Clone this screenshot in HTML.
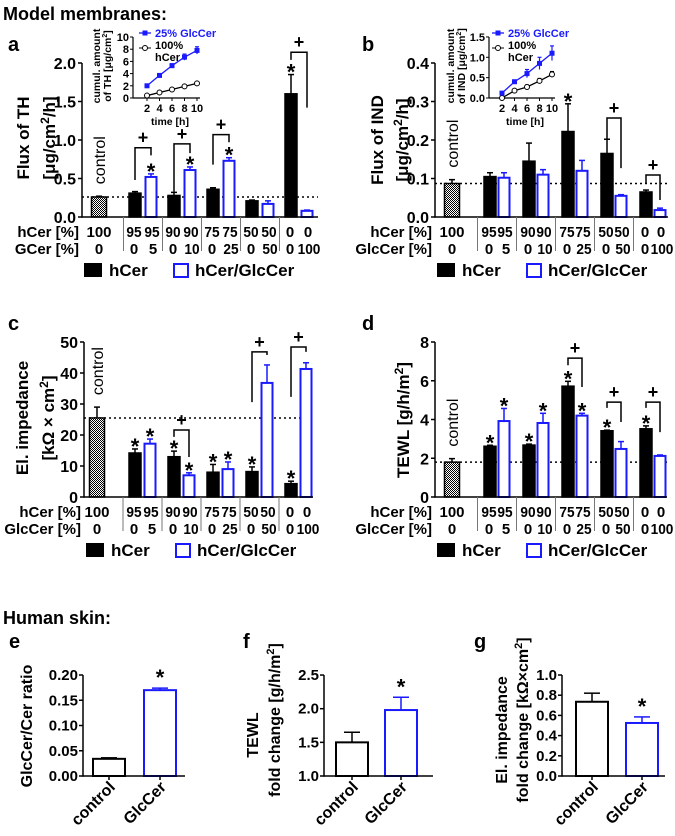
<!DOCTYPE html>
<html><head><meta charset="utf-8"><style>
html,body{margin:0;padding:0;background:#fff;}
svg{display:block;font-family:"Liberation Sans",Arial,sans-serif;}
</style></head><body>
<svg id="fig" width="675" height="836" viewBox="0 0 675 836" xmlns="http://www.w3.org/2000/svg">
<defs>
<pattern id="chk" width="2" height="2" patternUnits="userSpaceOnUse"><rect width="2" height="2" fill="#fff"/><rect width="1" height="1" fill="#000"/><rect x="1" y="1" width="1" height="1" fill="#000"/></pattern>
</defs>
<text x="3" y="20" font-size="18" font-weight="bold">Model membranes:</text>
<text x="3" y="624" font-size="18" font-weight="bold">Human skin:</text>
</svg>
<script>
// ---- data ----
const groupsHcer = ["95","90","75","50","0"];
const aGcer = ["5","10","25","50","100"];
const aCtrl = [0.26, 0.01];
const aHcer = [0.31, 0.28, 0.36, 0.21, 1.60];
const aHcerErr = [0.02, 0.04, 0.02, 0.01, 0.25];
const aBlue = [0.52, 0.61, 0.73, 0.17, 0.08];
const aBlueErr = [0.04, 0.04, 0.04, 0.04, 0.01];
const aStarsH = [0,0,0,0,1];
const aStarsB = [1,1,1,0,0];
const aBrackets = [[0,0.9,0.48,0.80],[1,0.95,0.33,0.83],[2,1.07,0.68,0.97],[4,2.14,2.04,1.42]];
const aTicks = [0,0.5,1.0,1.5,2.0];

const bCtrl = [0.087, 0.01];
const bHcer = [0.105, 0.145, 0.222, 0.165, 0.065];
const bHcerErr = [0.01, 0.047, 0.072, 0.037, 0.005];
const bBlue = [0.102, 0.110, 0.120, 0.055, 0.018];
const bBlueErr = [0.013, 0.013, 0.027, 0.003, 0.005];
const bStarsH = [0,0,1,0,0];
const bStarsB = [0,0,0,0,0];
const bBrackets = [[3,0.257,0.2,0.127],[4,0.109,0.088,0.044]];
const bTicks = [0,0.1,0.2,0.3,0.4];

const cCtrl = [25.5, 3.5];
const cHcer = [14.2, 13.0, 8.0, 8.2, 4.3];
const cHcerErr = [1.3, 1.8, 2.5, 1.5, 0.8];
const cBlue = [17.2, 7.0, 9.0, 36.8, 41.3];
const cBlueErr = [1.5, 0.8, 2.3, 5.8, 2.0];
const cStarsH = [1,1,1,1,1];
const cStarsB = [1,1,1,0,0];
const cBrackets = [[1,21.6,19.4,12.9],[3,46.8,30.6,45.8],[4,48.4,32.3,46.8]];
const cTicks = [0,10,20,30,40,50];

const dCtrl = [1.8, 0.18];
const dHcer = [2.62, 2.68, 5.72, 3.42, 3.52];
const dHcerErr = [0.05, 0.05, 0.25, 0.03, 0.15];
const dBlue = [3.92, 3.82, 4.20, 2.48, 2.12];
const dBlueErr = [0.65, 0.50, 0.12, 0.38, 0.05];
const dStarsH = [1,1,1,1,1];
const dStarsB = [1,1,1,0,0];
const dBrackets = [[2,7.17,6.8,5.68],[3,4.9,4.6,3.87],[4,4.9,4.6,3.35]];
const dTicks = [0,2,4,6,8];

const insetTime = [2,4,6,8,10];
const aInsetBlue = [2.0, 3.7, 5.3, 6.7, 7.8];
const aInsetBlueErr = [0.2, 0.3, 0.3, 0.5, 0.6];
const aInsetBlack = [0.4, 0.9, 1.4, 1.9, 2.4];
const aInsetBlackErr = [0.05, 0.1, 0.1, 0.1, 0.15];
const aInsetTicks = [0,2,4,6,8,10];
const bInsetBlue = [0.12, 0.40, 0.60, 0.85, 1.10];
const bInsetBlueErr = [0.03, 0.04, 0.10, 0.15, 0.18];
const bInsetBlack = [0.0, 0.18, 0.27, 0.42, 0.58];
const bInsetBlackErr = [0.02, 0.02, 0.05, 0.06, 0.07];
const bInsetTicks = [0,0.5,1.0,1.5];

const skinCats = ["control","GlcCer"];
const eVals = [0.034, 0.170];
const eErr = [0.002, 0.004];
const eTicks = [0,0.05,0.10,0.15,0.20];
const fVals = [1.50, 1.98];
const fErr = [0.15, 0.19];
const fTicks = [1.0,1.5,2.0,2.5];
const gVals = [0.735, 0.525];
const gErr = [0.085, 0.06];
const gTicks = [0,0.2,0.4,0.6,0.8,1.0];

// ---- drawing ----
const svg = document.getElementById('fig');
const NS = 'http://www.w3.org/2000/svg';
const BLUE = '#1a1aff';
function mk(tag, name, attrs, parent) {
  const el = document.createElementNS(NS, tag);
  
  
  for (const k in attrs) el.setAttribute(k, attrs[k]);
  (parent || svg).appendChild(el);
  return el;
}
function txt(name, x, y, s, attrs) {
  const el = mk('text', name, Object.assign({x: x, y: y}, attrs || {}));
  el.textContent = s;
  return el;
}
function val(name, x, y, s) {
  const a = {'font-size': 15, 'font-weight': 'bold', 'text-anchor': 'middle'};
  if (s.length > 1) { a.textLength = s.length * 7.6; a.lengthAdjust = 'spacingAndGlyphs'; }
  return txt(name, x, y, s, a);
}
function line(name, x1, y1, x2, y2, attrs) {
  return mk('line', name, Object.assign({x1: x1, y1: y1, x2: x2, y2: y2, stroke: '#000', 'stroke-width': 1.5}, attrs || {}));
}
function fmt(v, d) { return v.toFixed(d); }

function barPanel(c) {
  const Y = v => c.y0 - (v - c.ymin) * c.ppu;
  line(c.id + '-control-reference-line', c.axisX, Y(c.ctrl[0]), c.axisEnd, Y(c.ctrl[0]), {'stroke-dasharray': '2,3', 'stroke-width': 1.5});
  const bars = [];
  bars.push({x: c.ctrlX, v: c.ctrl[0], e: c.ctrl[1], kind: 'ctrl', star: 0, w: 15});
  for (let i = 0; i < c.hcer.length; i++) {
    const bx = c.gx0 + i * c.step;
    bars.push({x: bx, v: c.hcer[i], e: c.hcerErr[i], kind: 'h', star: c.starsH[i], w: 12});
    bars.push({x: bx + c.boff, v: c.blue[i], e: c.blueErr[i], kind: 'b', star: c.starsB[i], w: 11});
  }
  bars.forEach((b, i) => {
    const col = b.kind === 'b' ? BLUE : '#000';
    const top = Y(b.v), et = Y(b.v + b.e);
    line(c.id + '-error-bar', b.x, top, b.x, et, {stroke: col, 'stroke-width': 1.5});
    line(c.id + '-error-cap', b.x - 3, et, b.x + 3, et, {stroke: col, 'stroke-width': 1.5});
    mk('rect', c.id + '-bar-' + b.kind + '-' + i, {x: b.x - b.w / 2, y: top, width: b.w, height: c.y0 - top,
      fill: b.kind === 'ctrl' ? 'url(#chk)' : (b.kind === 'h' ? '#000' : '#fff'),
      stroke: col, 'stroke-width': b.kind === 'b' ? 2 : 1.5});
    if (b.star) txt(c.id + '-significance-star', b.x, et + 5, '*', {'font-size': 22, 'font-weight': 'bold', 'text-anchor': 'middle'});
  });
  txt(c.id + '-control-label', 0, 0, 'control', {'font-size': 16, transform: 'translate(' + (c.ctrlX + 6) + ',' + (Y(c.ctrl[0] + c.ctrl[1]) - 12) + ') rotate(-90)'});
  c.brackets.forEach(br => {
    const lx = c.gx0 + br[0] * c.step, rx = lx + c.boff, ty = Y(br[1]);
    mk('polyline', c.id + '-significance-bracket', {points: lx + ',' + Y(br[2]) + ' ' + lx + ',' + ty + ' ' + rx + ',' + ty + ' ' + rx + ',' + Y(br[3]), fill: 'none', stroke: '#000', 'stroke-width': 1.5});
    txt(c.id + '-bracket-plus', (lx + rx) / 2, ty - 4, '+', {'font-size': 18, 'font-weight': 'bold', 'text-anchor': 'middle'});
  });
  line(c.id + '-y-axis', c.axisX, c.y0 + 0.75, c.axisX, Y(c.ticks[c.ticks.length - 1]), {'stroke-width': 1.5});
  line(c.id + '-x-axis', c.axisX, c.y0, c.axisEnd, c.y0, {'stroke-width': 1.5});
  c.ticks.forEach(t => {
    line(c.id + '-y-tick', c.axisX - 4, Y(t), c.axisX, Y(t));
    txt(c.id + '-y-tick-label', c.axisX - 6, Y(t) + 6, fmt(t, c.dec), {'font-size': 16, 'font-weight': 'bold', 'text-anchor': 'end'});
  });
  const r1 = c.y0 + 20, r2 = c.y0 + 37;
  for (let i = 0; i < c.hcer.length; i++) {
    const sx = c.gx0 + i * c.step - (c.step - c.boff) / 2;
    line(c.id + '-group-separator', sx, c.y0, sx, c.y0 + 34, {stroke: '#777', 'stroke-width': 1});
  }
  txt(c.id + '-row-label-hcer', c.axisX - 3, r1, 'hCer [%]', {'font-size': 15, 'font-weight': 'bold', 'text-anchor': 'end'});
  txt(c.id + '-row-label-glccer', c.axisX - 3, r2, c.row2, {'font-size': 15, 'font-weight': 'bold', 'text-anchor': 'end'});
  txt(c.id + '-ctrl-hcer-value', c.ctrlX, r1, '100', {'font-size': 15, 'font-weight': 'bold', 'text-anchor': 'middle'});
  txt(c.id + '-ctrl-glccer-value', c.ctrlX, r2, '0', {'font-size': 15, 'font-weight': 'bold', 'text-anchor': 'middle'});
  for (let i = 0; i < groupsHcer.length; i++) {
    const bx = c.gx0 + i * c.step;
    val(c.id + '-hcer-value', bx - 1, r1, groupsHcer[i]);
    val(c.id + '-hcer-value', bx + c.boff + 1, r1, groupsHcer[i]);
    val(c.id + '-glccer-value', bx - 1, r2, '0');
    val(c.id + '-glccer-value', bx + c.boff + 2, r2, aGcer[i]);
  }
  const ly = c.y0 + 52;
  mk('rect', c.id + '-legend-hcer-swatch', {x: c.axisX + 2, y: ly - 6, width: 18, height: 14, fill: '#000'});
  txt(c.id + '-legend-hcer-label', c.axisX + 27, ly + 7, 'hCer', {'font-size': 17, 'font-weight': 'bold'});
  mk('rect', c.id + '-legend-glccer-swatch', {x: c.axisX + 92, y: ly - 5, width: 14, height: 13, fill: '#fff', stroke: BLUE, 'stroke-width': 2});
  txt(c.id + '-legend-glccer-label', c.axisX + 113, ly + 7, 'hCer/GlcCer', {'font-size': 17, 'font-weight': 'bold'});
  txt(c.id + '-panel-label', c.labX, c.labY, c.id, {'font-size': 20, 'font-weight': 'bold'});
  c.titles.forEach(t => {
    const el = txt(c.id + '-y-axis-title', 0, 0, '', {'font-size': 17, 'font-weight': 'bold', 'text-anchor': 'middle', transform: 'translate(' + t[0] + ',' + t[1] + ') rotate(-90)'});
    el.innerHTML = t[2];
  });
}

function inset(c) {
  const X = t => c.x2 + (t - 2) * c.pxT;
  const Y = v => c.y0 - v * c.ppu;
  line(c.id + '-inset-y-axis', c.ax, c.y0, c.ax, Y(c.ticks[c.ticks.length - 1]), {'stroke-width': 1.2});
  line(c.id + '-inset-x-axis', c.ax, c.y0, X(10) + 3, c.y0, {'stroke-width': 1.2});
  c.ticks.forEach(t => {
    line(c.id + '-inset-y-tick', c.ax - 3, Y(t), c.ax, Y(t), {'stroke-width': 1});
    txt(c.id + '-inset-y-tick-label', c.ax - 4, Y(t) + 4, fmt(t, c.dec), {'font-size': 11, 'font-weight': 'bold', 'text-anchor': 'end'});
  });
  insetTime.forEach(t => {
    line(c.id + '-inset-x-tick', X(t), c.y0, X(t), c.y0 + 3, {'stroke-width': 1});
    txt(c.id + '-inset-x-tick-label', X(t), c.y0 + 14, String(t), {'font-size': 11, 'font-weight': 'bold', 'text-anchor': 'middle'});
  });
  txt(c.id + '-inset-x-title', (c.x2 + X(10)) / 2 - 2, c.y0 + 27, 'time [h]', {'font-size': 10.5, 'font-weight': 'bold', 'text-anchor': 'middle'});
  [[c.black, c.blackErr, '#000', 'black'], [c.blue, c.blueErr, BLUE, 'blue']].forEach(s => {
    mk('polyline', c.id + '-inset-line-' + s[3], {points: insetTime.map((t, i) => X(t) + ',' + Y(s[0][i])).join(' '), fill: 'none', stroke: s[2], 'stroke-width': 1.3});
    insetTime.forEach((t, i) => {
      line(c.id + '-inset-error', X(t), Y(s[0][i] - s[1][i]), X(t), Y(s[0][i] + s[1][i]), {stroke: s[2], 'stroke-width': 1.2});
      line(c.id + '-inset-error-cap', X(t) - 2, Y(s[0][i] + s[1][i]), X(t) + 2, Y(s[0][i] + s[1][i]), {stroke: s[2], 'stroke-width': 1.2});
      if (s[3] === 'blue') mk('rect', c.id + '-inset-point-blue', {x: X(t) - 2.5, y: Y(s[0][i]) - 2.5, width: 5, height: 5, fill: BLUE});
      else mk('circle', c.id + '-inset-point-black', {cx: X(t), cy: Y(s[0][i]), r: 2.5, fill: '#fff', stroke: '#000', 'stroke-width': 1});
    });
  });
  line(c.id + '-inset-legend-blue-line', c.lx, 33, c.lx + 12, 33, {stroke: BLUE, 'stroke-width': 1.3});
  mk('rect', c.id + '-inset-legend-blue-marker', {x: c.lx + 3.5, y: 30.5, width: 5, height: 5, fill: BLUE});
  txt(c.id + '-inset-legend-blue-label', c.lx + 16, 37, '25% GlcCer', {'font-size': 11, 'font-weight': 'bold', fill: BLUE});
  line(c.id + '-inset-legend-black-line', c.lx, 48, c.lx + 12, 48, {'stroke-width': 1});
  mk('circle', c.id + '-inset-legend-black-marker', {cx: c.lx + 6, cy: 48, r: 2.5, fill: '#fff', stroke: '#000', 'stroke-width': 1});
  txt(c.id + '-inset-legend-black-label', c.lx + 16, 49, '100%', {'font-size': 11, 'font-weight': 'bold'});
  txt(c.id + '-inset-legend-black-label2', c.lx + 16, 61, 'hCer', {'font-size': 11, 'font-weight': 'bold'});
  c.titles.forEach(t => {
    const el = txt(c.id + '-inset-y-title', 0, 0, '', {'font-size': 10.5, 'font-weight': 'bold', 'text-anchor': 'middle', transform: 'translate(' + t[0] + ',' + t[1] + ') rotate(-90)'});
    el.innerHTML = t[2];
  });
}

function skinPanel(c) {
  const Y = v => c.y0 - (v - c.ymin) * c.ppu;
  c.vals.forEach((v, i) => {
    const x = c.cx[i], col = i === 1 ? BLUE : '#000';
    const top = Y(v), et = Y(v + c.err[i]);
    line(c.id + '-error-bar', x, top, x, et, {stroke: col, 'stroke-width': 1.5});
    line(c.id + '-error-cap', x - 8, et, x + 8, et, {stroke: col, 'stroke-width': 1.5});
    mk('rect', c.id + '-bar-' + skinCats[i], {x: x - 16, y: top, width: 32, height: c.y0 - top, fill: '#fff', stroke: col, 'stroke-width': 2});
    line(c.id + '-x-tick', x, c.y0, x, c.y0 + 4);
    txt(c.id + '-x-tick-label', 0, 0, skinCats[i], {'font-size': 16, 'font-weight': 'bold', 'text-anchor': 'end', transform: 'translate(' + (x + 7) + ',' + (c.y0 + 12) + ') rotate(-45)'});
    if (i === 1) txt(c.id + '-significance-star', x, et - 3, '*', {'font-size': 22, 'font-weight': 'bold', 'text-anchor': 'middle'});
  });
  line(c.id + '-y-axis', c.axisX, c.y0 + 0.75, c.axisX, Y(c.ticks[c.ticks.length - 1]), {'stroke-width': 1.5});
  line(c.id + '-x-axis', c.axisX, c.y0, c.axisEnd, c.y0, {'stroke-width': 1.5});
  c.ticks.forEach(t => {
    line(c.id + '-y-tick', c.axisX - 4, Y(t), c.axisX, Y(t));
    txt(c.id + '-y-tick-label', c.axisX - 5, Y(t) + 5, fmt(t, c.dec), {'font-size': 15, 'font-weight': 'bold', 'text-anchor': 'end'});
  });
  txt(c.id + '-panel-label', c.labX, 648, c.id, {'font-size': 20, 'font-weight': 'bold'});
  c.titles.forEach(t => {
    const el = txt(c.id + '-y-axis-title', 0, 0, '', {'font-size': 16, 'font-weight': 'bold', 'text-anchor': 'middle', transform: 'translate(' + t[0] + ',' + t[1] + ') rotate(-90)'});
    el.innerHTML = t[2];
  });
}

barPanel({id: 'a', y0: 217, ymin: 0, ppu: 77, dec: 1, ticks: aTicks, axisX: 82, axisEnd: 318, ctrlX: 99, gx0: 135, step: 39, boff: 16,
  ctrl: aCtrl, hcer: aHcer, hcerErr: aHcerErr, blue: aBlue, blueErr: aBlueErr, starsH: aStarsH, starsB: aStarsB, brackets: aBrackets,
  row2: 'GCer [%]', labX: 8, labY: 51,
  titles: [[29, 138, 'Flux of TH'], [55, 138, '[μg/cm<tspan dy="-6" font-size="12">2</tspan><tspan dy="6">/h]</tspan>']]});
barPanel({id: 'b', y0: 217, ymin: 0, ppu: 385, dec: 1, ticks: bTicks, axisX: 435, axisEnd: 668, ctrlX: 452, gx0: 490, step: 39, boff: 14,
  ctrl: bCtrl, hcer: bHcer, hcerErr: bHcerErr, blue: bBlue, blueErr: bBlueErr, starsH: bStarsH, starsB: bStarsB, brackets: bBrackets,
  row2: 'GlcCer [%]', labX: 362, labY: 51,
  titles: [[383, 140, 'Flux of IND'], [408, 140, '[μg/cm<tspan dy="-6" font-size="12">2</tspan><tspan dy="6">/h]</tspan>']]});
barPanel({id: 'c', y0: 497, ymin: 0, ppu: 3.1, dec: 0, ticks: cTicks, axisX: 84, axisEnd: 313, ctrlX: 97, gx0: 135, step: 39, boff: 15,
  ctrl: cCtrl, hcer: cHcer, hcerErr: cHcerErr, blue: cBlue, blueErr: cBlueErr, starsH: cStarsH, starsB: cStarsB, brackets: cBrackets,
  row2: 'GlcCer [%]', labX: 8, labY: 330,
  titles: [[28, 418, 'El. impedance'], [54, 418, '[kΩ × cm<tspan dy="-6" font-size="12">2</tspan><tspan dy="6">]</tspan>']]});
barPanel({id: 'd', y0: 497, ymin: 0, ppu: 19.375, dec: 0, ticks: dTicks, axisX: 435, axisEnd: 667, ctrlX: 452, gx0: 490, step: 39, boff: 14,
  ctrl: dCtrl, hcer: dHcer, hcerErr: dHcerErr, blue: dBlue, blueErr: dBlueErr, starsH: dStarsH, starsB: dStarsB, brackets: dBrackets,
  row2: 'GlcCer [%]', labX: 362, labY: 330,
  titles: [[409, 420, 'TEWL [g/h/m<tspan dy="-6" font-size="12">2</tspan><tspan dy="6">]</tspan>']]});

inset({id: 'a', ax: 133, y0: 98, ppu: 6.1, x2: 147, pxT: 6.25, ticks: aInsetTicks, dec: 0, black: aInsetBlack, blackErr: aInsetBlackErr, blue: aInsetBlue, blueErr: aInsetBlueErr, lx: 139,
  titles: [[100, 66, 'cumul. amount'], [111, 66, 'of TH [μg/cm<tspan dy="-4" font-size="7">2</tspan><tspan dy="4">]</tspan>']]});
inset({id: 'b', ax: 489, y0: 98, ppu: 40.7, x2: 502, pxT: 6.25, ticks: bInsetTicks, dec: 1, black: bInsetBlack, blackErr: bInsetBlackErr, blue: bInsetBlue, blueErr: bInsetBlueErr, lx: 492,
  titles: [[454, 66, 'cumul. amount'], [465, 66, 'of IND [μg/cm<tspan dy="-4" font-size="7">2</tspan><tspan dy="4">]</tspan>']]});

skinPanel({id: 'e', y0: 776, ymin: 0, ppu: 505, dec: 2, ticks: eTicks, axisX: 83, axisEnd: 185, cx: [109, 160], vals: eVals, err: eErr, labX: 9,
  titles: [[32, 726, 'GlcCer/Cer ratio']]});
skinPanel({id: 'f', y0: 776, ymin: 1.0, ppu: 67.3, dec: 1, ticks: fTicks, axisX: 324, axisEnd: 433, cx: [352, 401], vals: fVals, err: fErr, labX: 243,
  titles: [[258, 735, 'TEWL'], [280, 720, 'fold change [g/h/m<tspan dy="-6" font-size="11">2</tspan><tspan dy="6">]</tspan>']]});
skinPanel({id: 'g', y0: 776, ymin: 0, ppu: 101, dec: 1, ticks: gTicks, axisX: 562, axisEnd: 665, cx: [592, 642], vals: gVals, err: gErr, labX: 474,
  titles: [[507, 730, 'El. impedance'], [528, 720, 'fold change [kΩ×cm<tspan dy="-6" font-size="11">2</tspan><tspan dy="6">]</tspan>']]});
</script>
</body></html>
